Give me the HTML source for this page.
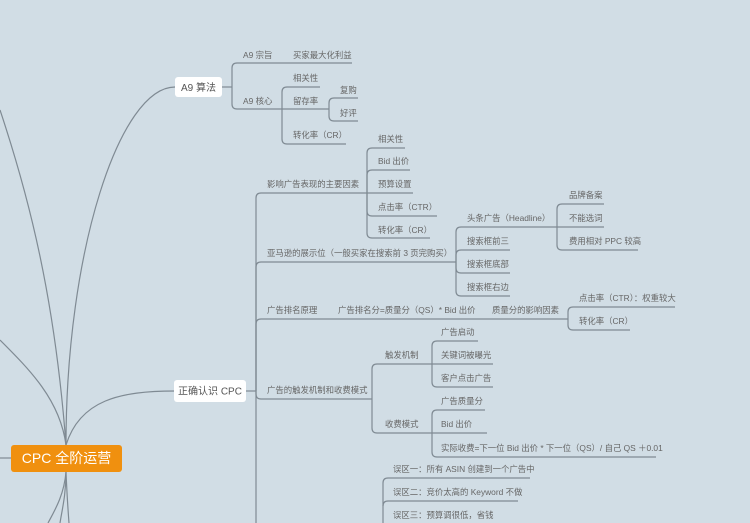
<!DOCTYPE html>
<html><head><meta charset="utf-8"><style>
html,body{margin:0;padding:0;background:#d1dde5;}
svg{display:block}
text{font-family:"Liberation Sans","Noto Sans CJK SC",sans-serif;font-size:8.4px;fill:#666}
</style></head><body>
<svg width="750" height="523" viewBox="0 0 750 523">
<rect width="750" height="523" fill="#d1dde5"/>
<g fill="none" stroke="#7f8a93" stroke-width="1.2">
<path d="M66,445 C66,250 120,87 175,87"/>
<path d="M66,445 C80,400 120,391 175,391"/>
<path d="M0,340 C30,370 60,400 66,445"/>
<path d="M0,110 C30,200 55,300 66,445"/>
<path d="M0,458 L11,458"/>
<path d="M66,472 C64,495 55,510 48,523"/>
<path d="M66,472 C66,495 62,510 60,523"/>
<path d="M66,472 C67,495 68,510 69,523"/>
<path d="M222,87 L232,87"/>
<path d="M232,87 L232,68 Q232,63 237,63 L352,63"/>
<path d="M232,87 L232,104 Q232,109 237,109 L282,109"/>
<path d="M282,109 L282,92 Q282,87 287,87 L320,87"/>
<path d="M282,109 L329,109"/>
<path d="M282,109 L282,139 Q282,144 287,144 L346,144"/>
<path d="M329,109 L329,103 Q329,98 334,98 L358,98"/>
<path d="M329,109 L329,116 Q329,121 334,121 L358,121"/>
<path d="M246,391 L256,391"/>
<path d="M256,391 L256,198 Q256,193 261,193 L367,193"/>
<path d="M256,391 L256,267 Q256,262 261,262 L456,262"/>
<path d="M256,391 L256,324 Q256,319 261,319 L568,319"/>
<path d="M256,391 L256,394 Q256,399 261,399 L372,399"/>
<path d="M256,391 L256,523"/>
<path d="M367,193 L367,153 Q367,148 372,148 L405,148"/>
<path d="M367,193 L367,175 Q367,170 372,170 L410,170"/>
<path d="M367,193 L413,193"/>
<path d="M367,193 L367,211 Q367,216 372,216 L437,216"/>
<path d="M367,193 L367,233 Q367,238 372,238 L430,238"/>
<path d="M456,262 L456,232 Q456,227 461,227 L557,227"/>
<path d="M456,262 L456,255 Q456,250 461,250 L510,250"/>
<path d="M456,262 L456,268 Q456,273 461,273 L510,273"/>
<path d="M456,262 L456,291 Q456,296 461,296 L510,296"/>
<path d="M557,227 L557,209 Q557,204 562,204 L604,204"/>
<path d="M557,227 L604,227"/>
<path d="M557,227 L557,245 Q557,250 562,250 L638,250"/>
<path d="M568,319 L568,312 Q568,307 573,307 L675,307"/>
<path d="M568,319 L568,325 Q568,330 573,330 L630,330"/>
<path d="M372,399 L372,369 Q372,364 377,364 L432,364"/>
<path d="M372,399 L372,428 Q372,433 377,433 L432,433"/>
<path d="M432,364 L432,346 Q432,341 437,341 L478,341"/>
<path d="M432,364 L493,364"/>
<path d="M432,364 L432,382 Q432,387 437,387 L493,387"/>
<path d="M432,433 L432,415 Q432,410 437,410 L485,410"/>
<path d="M432,433 L487,433"/>
<path d="M432,433 L432,452 Q432,457 437,457 L656,457"/>
<path d="M383,523 L383,483 Q383,478 388,478 L530,478"/>
<path d="M383,506 Q383,501 388,501 L518,501"/>
</g>
<rect x="175" y="77" width="47" height="20" rx="3" fill="#fff"/>
<text x="198.5" y="91" text-anchor="middle" style="font-size:10px;fill:#555">A9 算法</text>
<rect x="174" y="380" width="72" height="22" rx="3" fill="#fff"/>
<text x="210" y="394.5" text-anchor="middle" style="font-size:10px;fill:#555">正确认识 CPC</text>
<rect x="11" y="445" width="111" height="27" rx="3" fill="#f0900f"/>
<text x="66.5" y="463" text-anchor="middle" style="font-size:14px;fill:#fff">CPC 全阶运营</text>
<text x="243" y="58">A9 宗旨</text>
<text x="293" y="58">买家最大化利益</text>
<text x="243" y="104">A9 核心</text>
<text x="293" y="81">相关性</text>
<text x="293" y="104">留存率</text>
<text x="293" y="138">转化率（CR）</text>
<text x="340" y="93">复购</text>
<text x="340" y="116">好评</text>
<text x="267" y="187">影响广告表现的主要因素</text>
<text x="378" y="142">相关性</text>
<text x="378" y="164">Bid 出价</text>
<text x="378" y="187">预算设置</text>
<text x="378" y="210">点击率（CTR）</text>
<text x="378" y="233">转化率（CR）</text>
<text x="267" y="256">亚马逊的展示位（一般买家在搜索前 3 页完购买）</text>
<text x="467" y="221">头条广告（Headline）</text>
<text x="467" y="244">搜索框前三</text>
<text x="467" y="267">搜索框底部</text>
<text x="467" y="290">搜索框右边</text>
<text x="569" y="198">品牌备案</text>
<text x="569" y="221">不能选词</text>
<text x="569" y="244">费用相对 PPC 较高</text>
<text x="267" y="313">广告排名原理</text>
<text x="338" y="313">广告排名分=质量分（QS）* Bid 出价</text>
<text x="492" y="313">质量分的影响因素</text>
<text x="579" y="301">点击率（CTR）：权重较大</text>
<text x="579" y="324">转化率（CR）</text>
<text x="267" y="393">广告的触发机制和收费模式</text>
<text x="385" y="358">触发机制</text>
<text x="385" y="427">收费模式</text>
<text x="441" y="335">广告启动</text>
<text x="441" y="358">关键词被曝光</text>
<text x="441" y="381">客户点击广告</text>
<text x="441" y="404">广告质量分</text>
<text x="441" y="427">Bid 出价</text>
<text x="441" y="451">实际收费=下一位 Bid 出价 * 下一位（QS）/ 自己 QS ＋0.01</text>
<text x="393" y="472">误区一：所有 ASIN 创建到一个广告中</text>
<text x="393" y="495">误区二：竞价太高的 Keyword 不做</text>
<text x="393" y="518">误区三：预算调很低，省钱</text>
</svg>
</body></html>
